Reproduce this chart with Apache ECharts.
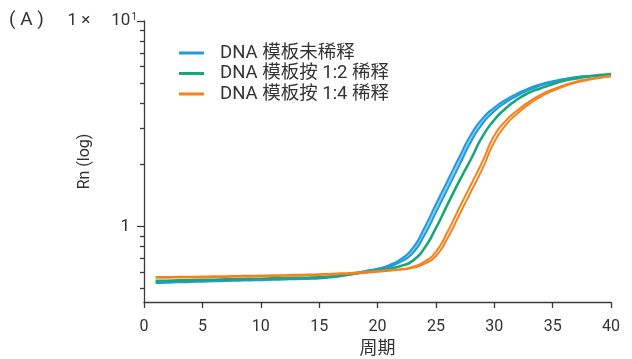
<!DOCTYPE html>
<html>
<head>
<meta charset="utf-8">
<script src="https://cdn.jsdelivr.net/npm/echarts@6/dist/echarts.min.js"></script>
<style>
  html, body { margin: 0; padding: 0; background: #fff; }
  #chart { width: 632px; height: 359px; }
</style>
</head>
<body>
<div id="chart"></div>
<script>
// ---- Data ----
const cycles = [1,2,3,4,5,6,7,8,9,10,11,12,13,14,15,16,17,18,19,20,21,22,23,24,25,26,27,28,29,30,31,32,33,34,35,36,37,38,39,40];

const seriesNames = ['DNA 模板未稀释', 'DNA 模板按 1:2 稀释', 'DNA 模板按 1:4 稀释'];

// Undiluted template: three replicate curves
const undilutedRepA = [0.538,0.540,0.542,0.544,0.546,0.548,0.550,0.552,0.553,0.555,0.557,0.559,0.561,0.563,0.566,0.572,0.582,0.595,0.609,
  0.624,0.650,0.696,0.783,0.983,1.285,1.672,2.175,2.795,3.363,3.789,4.146,4.447,4.716,4.932,5.092,5.231,5.335,5.400,5.440,5.460];
const undilutedRepB = [0.535,0.537,0.539,0.541,0.543,0.545,0.547,0.549,0.550,0.552,0.554,0.556,0.558,0.560,0.563,0.569,0.579,0.592,0.606,
  0.621,0.644,0.685,0.762,0.942,1.226,1.595,2.075,2.685,3.266,3.713,4.084,4.393,4.671,4.896,5.063,5.207,5.319,5.391,5.434,5.458];
const undilutedRepC = [0.532,0.534,0.536,0.538,0.540,0.542,0.544,0.546,0.547,0.549,0.551,0.553,0.555,0.557,0.560,0.566,0.576,0.589,0.603,
  0.617,0.638,0.675,0.741,0.903,1.170,1.522,1.980,2.579,3.172,3.639,4.023,4.339,4.626,4.861,5.035,5.184,5.303,5.380,5.430,5.455];

// 1:2 dilution
const dilution2 = [0.5445,0.5457,0.5476,0.5488,0.5506,0.5519,0.5537,0.5550,0.5569,0.5581,0.5600,0.5612,0.5631,0.5644,0.5663,0.5721,0.5798,0.5896,0.6003,
  0.6111,0.6242,0.6441,0.6812,0.7835,0.9834,1.2821,1.6643,2.1267,2.7448,3.3019,3.7641,4.1627,4.4814,4.7128,4.9276,5.1186,5.2522,5.3651,5.4576,5.5251];

// 1:4 dilution: two replicate curves
const dilution4RepA = [0.5686,0.5692,0.5699,0.5705,0.5718,0.5731,0.5743,0.5756,0.5769,0.5782,0.5795,0.5808,0.5827,0.5847,0.5867,0.5893,0.5927,0.5967,0.6020,0.6081,0.6150,
  0.6211,0.6368,0.6735,0.7543,0.9440,1.2317,1.5985,2.0794,2.7652,3.2758,3.6803,4.0523,4.3855,4.6463,4.8741,5.0730,5.2087,5.3164,5.3964];
const dilution4RepB = [0.5640,0.5646,0.5653,0.5659,0.5672,0.5685,0.5697,0.5710,0.5723,0.5736,0.5749,0.5762,0.5781,0.5801,0.5821,0.5847,0.5879,0.5919,0.5972,0.6033,0.6102,
  0.6179,0.6304,0.6590,0.7197,0.8797,1.1388,1.4779,1.9185,2.5769,3.1253,3.5589,3.9450,4.2922,4.5720,4.8095,5.0197,5.1704,5.2857,5.3728];

const xTicks = [0,5,10,15,20,25,30,35,40];
const yMajorTicks = [1, 10];
const yMinorTicks = [0.5,0.6,0.7,0.8,0.9,2,3,4,5,6,7,8,9];

// ---- Styling ----
const FONT = 'Roboto, "Noto Sans CJK SC", "Noto Sans", sans-serif';
const TXT = '#333333';
const AXIS = '#3a3a3a';
const BLUE = '#1f9bdc';
const BLUE_LIGHT = '#86c8ee';
const GREEN = '#1ba57a';
const ORANGE = '#f5821f';

function pairs(vals) { return cycles.map((c, i) => [c, vals[i]]); }
function line(name, vals, color, width, z) {
  return {
    name: name, type: 'line', data: pairs(vals), smooth: 0.6, symbol: 'none',
    xAxisIndex: 0, yAxisIndex: 0, z: z,
    lineStyle: { color: color, width: width }, itemStyle: { color: color },
    emphasis: { disabled: true }, animation: false
  };
}

const chart = echarts.init(document.getElementById('chart'), null, { renderer: 'canvas' });
chart.setOption({
  backgroundColor: '#fff',
  animation: false,
  textStyle: { fontFamily: FONT },
  title: {
    text: '( A )', left: 4, top: 6,
    textStyle: { fontSize: 19, fontWeight: 'normal', color: TXT, fontFamily: FONT }
  },
  grid: { left: 144, right: 21, top: 21, bottom: 57, containLabel: false, outerBoundsMode: 'none' },
  legend: {
    orient: 'vertical', left: 174, top: 38, itemGap: 0.5,
    itemWidth: 25, itemHeight: 3, icon: 'rect',
    data: seriesNames.map((n, i) => ({ name: n, itemStyle: { color: [BLUE, GREEN, ORANGE][i] } })),
    textStyle: { fontSize: 18.5, color: TXT, fontFamily: FONT, lineHeight: 20, padding: [0, 0, 0, 11] }
  },
  xAxis: {
    type: 'value', min: 0, max: 40, interval: 5,
    name: '周期', nameLocation: 'middle', nameGap: 39, nameMoveOverlap: false,
    nameTextStyle: { fontSize: 18, color: TXT, fontFamily: FONT },
    axisLine: { show: true, onZero: false, lineStyle: { color: AXIS, width: 1.3 } },
    axisTick: { show: true, length: 6, lineStyle: { color: AXIS, width: 1.3 }, customValues: xTicks },
    axisLabel: { fontSize: 16, color: TXT, margin: 17, fontFamily: FONT, customValues: xTicks },
    splitLine: { show: false }
  },
  yAxis: [
    {
      type: 'log', logBase: 10, min: 0.43, max: 10, position: 'left',
      name: 'Rn (log)', nameLocation: 'middle', nameGap: 51, nameRotate: 90, nameMoveOverlap: false,
      nameTextStyle: { fontSize: 16, color: TXT, fontFamily: FONT },
      axisLine: { show: true, lineStyle: { color: AXIS, width: 1.3 } },
      axisTick: { show: true, length: 7, lineStyle: { color: AXIS, width: 1.3 }, customValues: yMajorTicks },
      axisLabel: {
        customValues: yMajorTicks, margin: 7, color: TXT, fontFamily: FONT,
        formatter: function (v) {
          return Math.abs(v - 10) < 1e-6 ? '{n|1 ×}{g|}{n|10}{s|1}' : '{n|1}{p|}';
        },
        rich: {
          n: { fontSize: 17, color: TXT, fontFamily: FONT },
          g: { width: 21 },
          s: { fontSize: 10, color: TXT, fontFamily: FONT, verticalAlign: 'top', padding: [0, 0, 0, 1] },
          p: { width: 7 }
        }
      },
      splitLine: { show: false }
    },
    {
      type: 'log', logBase: 10, min: 0.43, max: 10, position: 'left',
      axisLine: { show: false },
      axisTick: { show: true, length: 4, lineStyle: { color: AXIS, width: 1.3 }, customValues: yMinorTicks },
      axisLabel: { show: false },
      splitLine: { show: false }
    }
  ],
  series: [
    line(seriesNames[0], undilutedRepA, BLUE, 2, 3),
    line(seriesNames[0], undilutedRepB, BLUE_LIGHT, 2, 2),
    line(seriesNames[0], undilutedRepC, BLUE, 2, 3),
    line(seriesNames[1], dilution2, GREEN, 2.6, 4),
    line(seriesNames[2], dilution4RepA, ORANGE, 2, 5),
    line(seriesNames[2], dilution4RepB, ORANGE, 2, 5)
  ]
});
</script>
</body>
</html>
